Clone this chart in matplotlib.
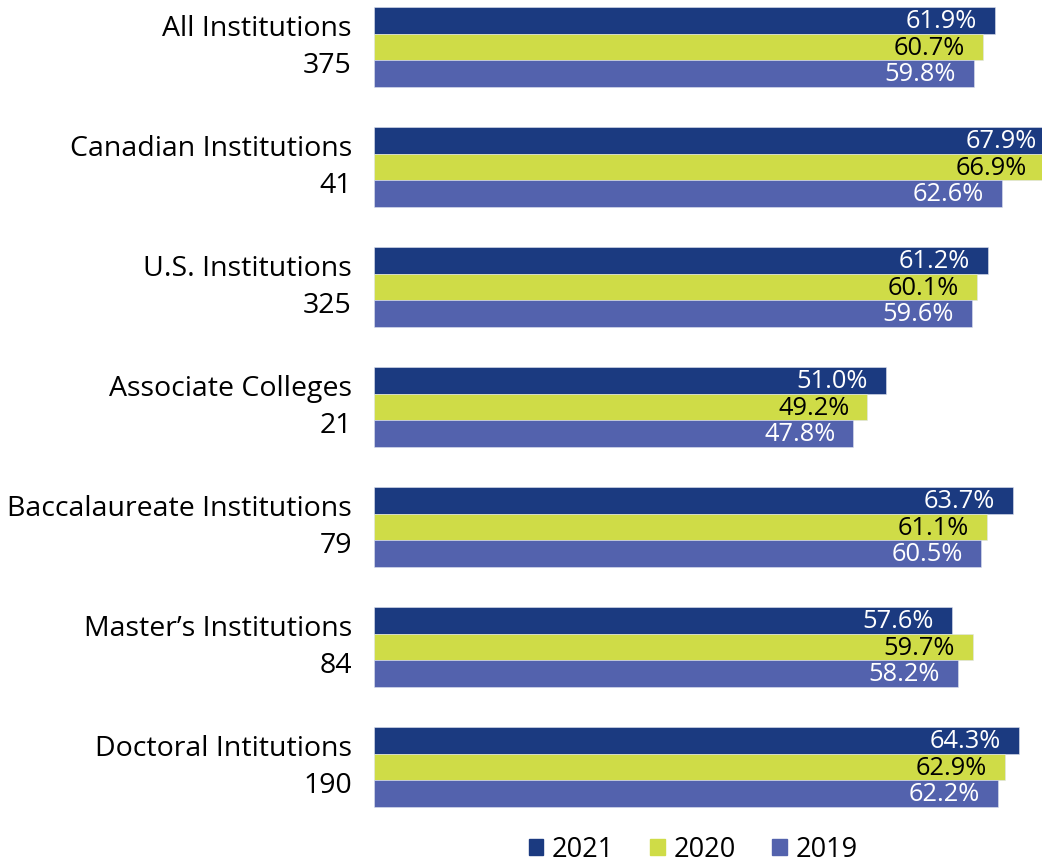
import matplotlib.pyplot as plt
from matplotlib.patches import Patch

plt.rcParams["font.family"] = ["Open Sans", "DejaVu Sans"]

categories = ["All Institutions", "Canadian Institutions", "U.S. Institutions",
              "Associate Colleges", "Baccalaureate Institutions",
              "Master\u2019s Institutions", "Doctoral Intitutions"]
counts = ["375", "41", "325", "21", "79", "84", "190"]

years = ["2021", "2020", "2019"]
rate_2021 = [61.9, 67.9, 61.2, 51.0, 63.7, 57.6, 64.3]
rate_2020 = [60.7, 66.9, 60.1, 49.2, 61.1, 59.7, 62.9]
rate_2019 = [59.8, 62.6, 59.6, 47.8, 60.5, 58.2, 62.2]

colors = ["#1b3a80", "#cfdc47", "#5362ad"]
text_colors = ["white", "black", "white"]

fig = plt.figure(figsize=(10.42, 8.66), dpi=100)
ax = fig.add_axes([374 / 1042, 0, 668 / 1042, 1])

h = 26.7 / 120
pos = list(range(len(categories)))
series = [rate_2021, rate_2020, rate_2019]
for k, vals in enumerate(series):
    ys = [p + (k - 1) * h for p in pos]
    ax.barh(ys, vals, height=h, color=colors[k], edgecolor="#dfe3ef", linewidth=0.4)
    for y, v in zip(ys, vals):
        ax.text(v - 1.8, y + 0.01, "%.1f%%" % v, ha="right", va="center",
                color=text_colors[k], fontsize=18.3)

# category labels, two lines, right aligned left of the bars
for p, c, n in zip(pos, categories, counts):
    ax.text(-2.2, p + 0.005, c + "\n" + n, ha="right", va="center",
            multialignment="right", fontsize=20.5, linespacing=1.45,
            clip_on=False)

ax.set_xlim(0, 668 / 10.03)
ax.set_ylim((866 - 47) / 120, -47 / 120)
ax.set_yticks([])
ax.set_xticks([])
for s in ax.spines.values():
    s.set_visible(False)

handles = [Patch(color=c) for c in colors]
fig.legend(handles, years, loc="center", bbox_to_anchor=(0.665, 0.019),
           ncol=3, frameon=False, fontsize=19.5, handlelength=0.55,
           handleheight=0.55, handletextpad=0.3, columnspacing=1.35)

fig.savefig("out.png", dpi=100)
